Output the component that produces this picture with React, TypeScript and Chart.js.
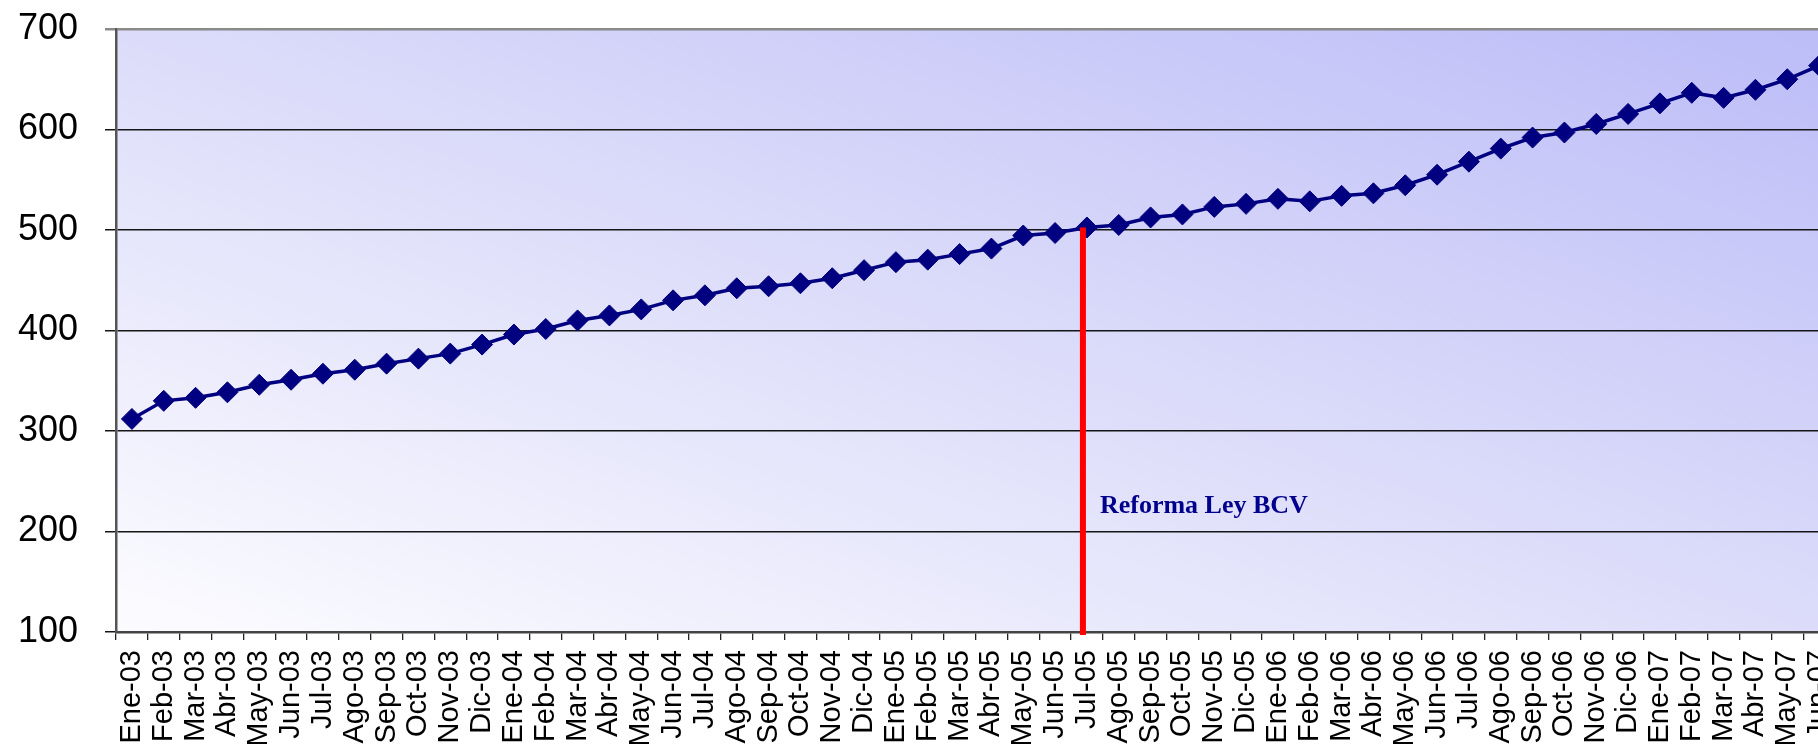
import React, { useEffect, useRef } from "react";
import { Chart, registerables } from "chart.js";

Chart.register(...registerables);

const months = ["Ene", "Feb", "Mar", "Abr", "May", "Jun", "Jul", "Ago", "Sep", "Oct", "Nov", "Dic"];
const years = ["03", "04", "05", "06", "07"];
const categories: string[] = [];
years.forEach((yy, yi) => {
  months.forEach((m, mi) => {
    if (yi < 4 || mi < 6) categories.push(`${m}-${yy}`);
  });
});

const values = [
  312, 330, 333, 338.5, 346, 351, 357, 361, 367, 372, 377, 386,
  396, 401.5, 410, 415, 421, 430, 435, 442, 444, 447, 452, 460,
  468, 470.5, 476, 481.5, 494.5, 497, 502.5, 505, 512.5, 515.5, 523, 526,
  531, 528.5, 534, 536.5, 544.5, 555, 568, 581, 592, 597, 605.5, 615.5,
  626, 636.5, 631.5, 639.5, 650, 663.5,
];

const yTicks = [100, 200, 300, 400, 500, 600, 700];
const eventLabel = "Jul-05";
const annotationText = "Reforma Ley BCV";
const annotationValue = 218;

const bgPlugin = {
  id: "bgGradient",
  beforeDraw(chart: any) {
    const { ctx, chartArea } = chart;
    const { left, top, right, bottom } = chartArea;
    const W = right - left;
    const H = bottom - top;
    const t = (2 * W * H) / (W * W + H * H);
    const g = ctx.createLinearGradient(left, bottom, left + t * H, bottom - t * W);
    g.addColorStop(0, "#fcfcff");
    g.addColorStop(0.5, "#dcdcfa");
    g.addColorStop(1, "#bcbcf8");
    ctx.save();
    ctx.fillStyle = g;
    ctx.fillRect(left, top, W, H);
    ctx.restore();
  },
};

const eventPlugin = {
  id: "eventLine",
  afterDatasetsDraw(chart: any) {
    const { ctx, scales } = chart;
    const xs = scales.x;
    const ys = scales.y;
    const idx = categories.indexOf(eventLabel);
    const x = xs.getPixelForValue(idx) - 4;
    const yTop = ys.getPixelForValue(values[idx]);
    const yBot = ys.getPixelForValue(ys.min) + 3;
    ctx.save();
    ctx.strokeStyle = "#ff0000";
    ctx.lineWidth = 6;
    ctx.beginPath();
    ctx.moveTo(x, yTop);
    ctx.lineTo(x, yBot);
    ctx.stroke();
    ctx.fillStyle = "#00008c";
    ctx.font = "bold 26px 'Liberation Serif', 'Times New Roman', serif";
    ctx.textAlign = "left";
    ctx.textBaseline = "alphabetic";
    ctx.fillText(annotationText, x + 17, ys.getPixelForValue(annotationValue));
    ctx.restore();
  },
};

export default function App() {
  const ref = useRef<HTMLCanvasElement | null>(null);
  useEffect(() => {
    if (!ref.current) return;
    const chart = new Chart(ref.current, {
      type: "line",
      data: {
        labels: categories,
        datasets: [
          {
            data: values,
            borderColor: "#000080",
            backgroundColor: "#000080",
            borderWidth: 3.5,
            pointStyle: "rectRot",
            pointRadius: 10.5,
            pointBorderWidth: 1,
            pointBackgroundColor: "#000080",
            pointBorderColor: "#000080",
            tension: 0,
            fill: false,
          },
        ],
      },
      options: {
        responsive: false,
        animation: false,
        layout: { padding: { top: 29, right: 0, left: 0, bottom: 0 } },
        plugins: { legend: { display: false }, tooltip: { enabled: false } },
        scales: {
          x: {
            type: "category",
            offset: true,
            afterFit: (s: any) => {
              s.height = 112;
            },
            grid: {
              offset: true,
              drawOnChartArea: false,
              drawTicks: true,
              tickLength: 8,
              color: "#222",
              lineWidth: 1.3,
            },
            border: { display: true, color: "#444", width: 2.5 },
            ticks: {
              autoSkip: false,
              maxRotation: 90,
              minRotation: 90,
              padding: 10,
              color: "#000",
              font: { family: "'Liberation Sans', Arial, sans-serif", size: 29 },
            },
          },
          y: {
            min: 100,
            max: 700,
            afterFit: (s: any) => {
              s.width = 116;
              s.paddingTop = 0;
              s.paddingBottom = 0;
            },
            afterBuildTicks: (s: any) => {
              s.ticks = yTicks.map((v) => ({ value: v }));
            },
            grid: {
              tickLength: 11,
              color: (c: any) => (c.tick && c.tick.value === 700 ? "#8a8a8a" : "#151515"),
              lineWidth: (c: any) => (c.tick && c.tick.value === 700 ? 2.5 : 1.5),
            },
            border: { display: true, color: "#555", width: 2.5 },
            ticks: {
              padding: 27,
              color: "#000",
              font: { family: "'Liberation Sans', Arial, sans-serif", size: 36 },
            },
          },
        },
      },
      plugins: [bgPlugin, eventPlugin],
    });
    return () => chart.destroy();
  }, []);
  return (
    <div style={{ position: "fixed", left: 0, top: 0, width: "100vw", height: "100vh", overflow: "hidden", background: "#fff" }}>
      <canvas ref={ref} width={1864} height={744} style={{ display: "block", width: 1864, height: 744 }} />
    </div>
  );
}
